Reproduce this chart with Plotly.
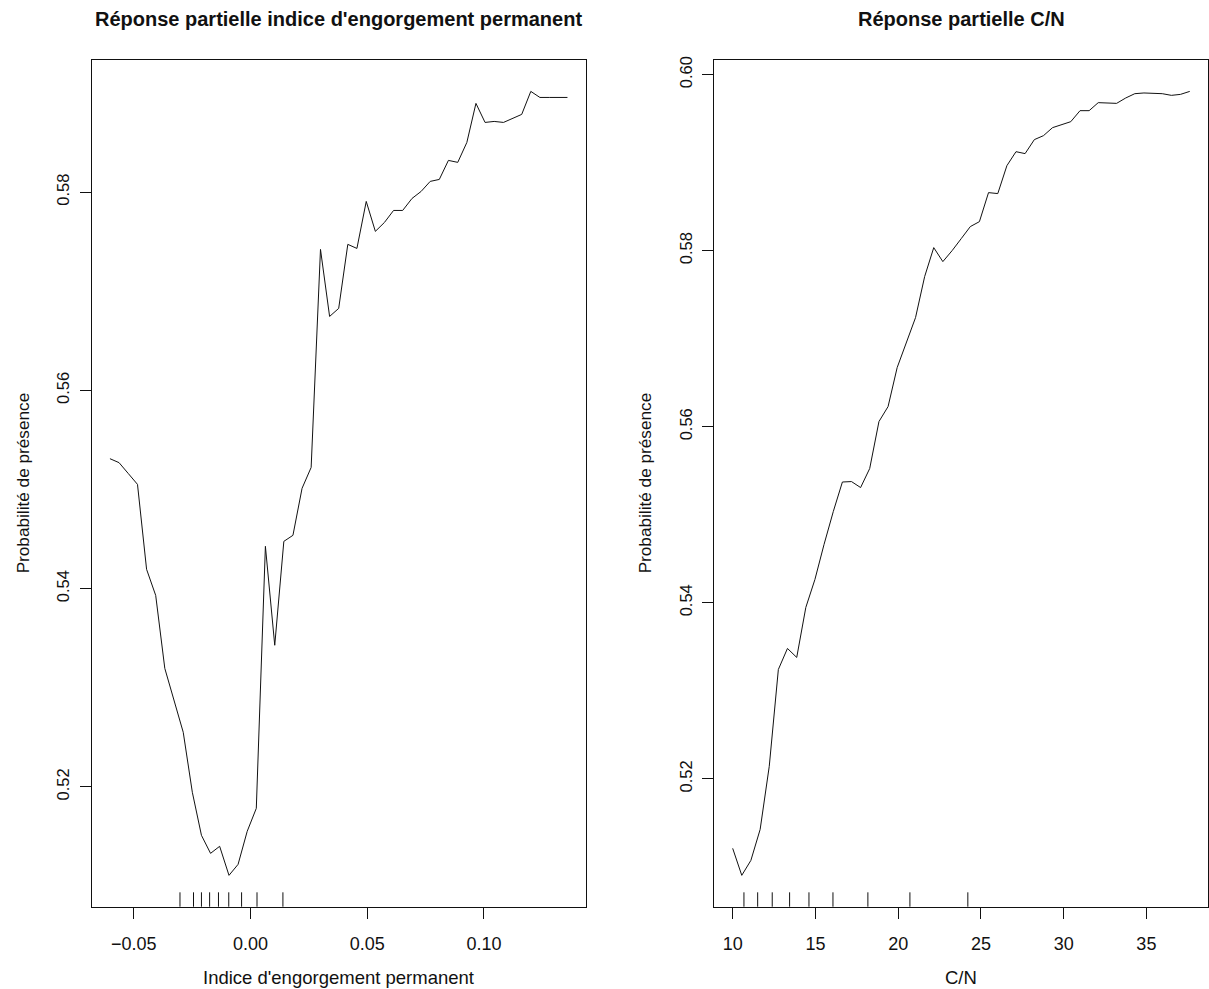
import plotly.graph_objects as go

# Partial dependence: permanent waterlogging index
engorgement_x = [-0.0602, -0.0563, -0.0524, -0.0484, -0.0445, -0.0406, -0.0367, -0.0328, -0.0288, -0.0249,
                 -0.0210, -0.0171, -0.0132, -0.0092, -0.0053, -0.0014, 0.0025, 0.0064, 0.0104, 0.0143,
                 0.0182, 0.0221, 0.0260, 0.0300, 0.0339, 0.0378, 0.0417, 0.0456, 0.0496, 0.0535,
                 0.0574, 0.0613, 0.0652, 0.0692, 0.0731, 0.0770, 0.0809, 0.0848, 0.0888, 0.0927,
                 0.0966, 0.1005, 0.1044, 0.1084, 0.1123, 0.1162, 0.1201, 0.1240, 0.1280, 0.1319, 0.1358]
engorgement_y = [0.55311, 0.55271, 0.55163, 0.55052, 0.54195, 0.53932, 0.53196, 0.52873, 0.52551, 0.51946,
                 0.51512, 0.51330, 0.51401, 0.51108, 0.51219, 0.51552, 0.51784, 0.54427, 0.53429, 0.54477,
                 0.54538, 0.55012, 0.55223, 0.57422, 0.56746, 0.56827, 0.57473, 0.57432, 0.57906, 0.57604,
                 0.57694, 0.57815, 0.57815, 0.57936, 0.58007, 0.58108, 0.58128, 0.58320, 0.58300, 0.58501,
                 0.58895, 0.58703, 0.58713, 0.58703, 0.58743, 0.58784, 0.59016, 0.58955, 0.58955, 0.58955, 0.58955]
engorgement_rug = [-0.0302, -0.0244, -0.0210, -0.0175, -0.0137, -0.0093, -0.0038, 0.0028, 0.0139]

# Partial dependence: C/N ratio
cn_x = [10.00, 10.55, 11.10, 11.66, 12.21, 12.76, 13.31, 13.87, 14.42, 14.97,
        15.52, 16.08, 16.63, 17.18, 17.73, 18.28, 18.84, 19.39, 19.94, 20.49,
        21.05, 21.60, 22.15, 22.70, 23.26, 23.81, 24.36, 24.91, 25.46, 26.02,
        26.57, 27.12, 27.67, 28.23, 28.78, 29.33, 29.88, 30.43, 30.99, 31.54,
        32.09, 32.64, 33.20, 33.75, 34.30, 34.85, 35.41, 35.96, 36.51, 37.06, 37.62]
cn_y = [0.51210, 0.50903, 0.51073, 0.51425, 0.52141, 0.53242, 0.53481, 0.53379, 0.53947, 0.54265,
        0.54662, 0.55037, 0.55372, 0.55377, 0.55309, 0.55525, 0.56059, 0.56229, 0.56672, 0.56956,
        0.57240, 0.57706, 0.58035, 0.57876, 0.58001, 0.58137, 0.58274, 0.58330, 0.58660, 0.58649,
        0.58966, 0.59125, 0.59103, 0.59262, 0.59307, 0.59398, 0.59432, 0.59466, 0.59591, 0.59591,
        0.59682, 0.59676, 0.59674, 0.59735, 0.59784, 0.59792, 0.59784, 0.59784, 0.59765, 0.59776, 0.59810]
cn_rug = [10.68, 11.51, 12.39, 13.44, 14.61, 16.06, 18.17, 20.71, 24.21]

left_xticks = [-0.05, 0.0, 0.05, 0.10]
left_xticktext = ["\u22120.05", "0.00", "0.05", "0.10"]
left_yticks = [0.52, 0.54, 0.56, 0.58]
right_xticks = [10, 15, 20, 25, 30, 35]
right_yticks = [0.52, 0.54, 0.56, 0.58, 0.60]

titles = ["Réponse partielle indice d'engorgement permanent", "Réponse partielle C/N"]
xlabels = ["Indice d'engorgement permanent", "C/N"]
ylabel = "Probabilité de présence"

FONT = "Liberation Sans, Arial, sans-serif"
INK = "#111111"
W, H = 1209, 989


def padded(vals, frac=0.04):
    lo, hi = min(vals), max(vals)
    span = hi - lo
    return [lo - frac * span, hi + frac * span]


fig = go.Figure()
fig.add_trace(go.Scatter(x=engorgement_x, y=engorgement_y, mode="lines",
                         line=dict(color=INK, width=1), xaxis="x", yaxis="y",
                         showlegend=False, hoverinfo="skip"))
fig.add_trace(go.Scatter(x=cn_x, y=cn_y, mode="lines",
                         line=dict(color=INK, width=1), xaxis="x2", yaxis="y2",
                         showlegend=False, hoverinfo="skip"))

# Rug ticks at the deciles along the bottom of each panel
shapes = []
for xv in engorgement_rug:
    shapes.append(dict(type="line", xref="x", yref="y domain", x0=xv, x1=xv, y0=0, y1=0.017,
                       line=dict(color=INK, width=1)))
for xv in cn_rug:
    shapes.append(dict(type="line", xref="x2", yref="y2 domain", x0=xv, x1=xv, y0=0, y1=0.017,
                       line=dict(color=INK, width=1)))

axis_common = dict(showline=True, linecolor=INK, linewidth=1, mirror=True, ticks="outside",
                   ticklen=11, tickcolor=INK, tickwidth=1, showgrid=False, zeroline=False,
                   automargin=False)
xtickfont = dict(family=FONT, size=18, color=INK)
ytickfont = dict(family=FONT, size=16.5, color=INK)

ydom = [0.0832, 0.9393]
left_dom = [0.0758, 0.4845]
right_dom = [0.5909, 0.9992]

fig.update_layout(
    width=W, height=H,
    margin=dict(l=0, r=0, t=0, b=0),
    paper_bgcolor="white", plot_bgcolor="white",
    shapes=shapes,
    xaxis=dict(domain=left_dom, range=padded(engorgement_x), anchor="y",
               tickvals=left_xticks, ticktext=left_xticktext, ticklabelstandoff=10,
               tickfont=xtickfont, **axis_common),
    yaxis=dict(domain=ydom, range=padded(engorgement_y), anchor="x",
               tickvals=left_yticks, ticktext=[f"{v:.2f}" for v in left_yticks],
               tickangle=-90, ticklabelstandoff=4, tickfont=ytickfont, **axis_common),
    xaxis2=dict(domain=right_dom, range=padded(cn_x), anchor="y2",
                tickvals=right_xticks, ticktext=[str(v) for v in right_xticks],
                ticklabelstandoff=10, tickfont=xtickfont, **axis_common),
    yaxis2=dict(domain=ydom, range=padded(cn_y), anchor="x2",
                tickvals=right_yticks, ticktext=[f"{v:.2f}" for v in right_yticks],
                tickangle=-90, ticklabelstandoff=4, tickfont=ytickfont, **axis_common),
)

annotations = []
for dom, title, xlab, ycx in [(left_dom, titles[0], xlabels[0], 23),
                              (right_dom, titles[1], xlabels[1], 645)]:
    cx = (dom[0] + dom[1]) / 2
    annotations.append(dict(text=f"<b>{title}</b>", x=cx, y=1 - 19 / H, xref="paper", yref="paper",
                            xanchor="center", yanchor="middle", showarrow=False,
                            font=dict(family=FONT, size=20, color=INK)))
    annotations.append(dict(text=xlab, x=cx, y=1 - 977 / H, xref="paper", yref="paper",
                            xanchor="center", yanchor="middle", showarrow=False,
                            font=dict(family=FONT, size=18.5, color=INK)))
    annotations.append(dict(text=ylabel, x=ycx / W, y=(ydom[0] + ydom[1]) / 2, xref="paper",
                            yref="paper", xanchor="center", yanchor="middle", showarrow=False,
                            textangle=-90, font=dict(family=FONT, size=17.2, color=INK)))
fig.update_layout(annotations=annotations)

fig.write_html("out.html")
